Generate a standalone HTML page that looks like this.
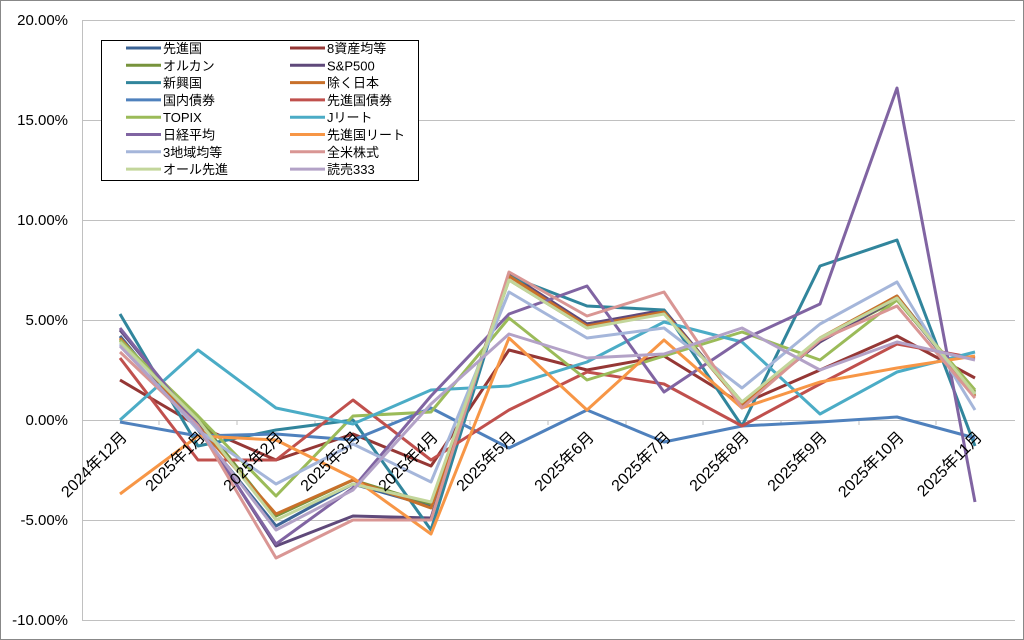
<!DOCTYPE html>
<html><head><meta charset="utf-8"><style>
body{margin:0;background:#fff}
svg{display:block;font-family:"Liberation Sans","Noto Sans CJK JP",sans-serif}
</style></head><body>
<svg id="s" width="1024" height="640" xmlns="http://www.w3.org/2000/svg">
<rect x="0.5" y="0.5" width="1023" height="639" fill="#fff" stroke="#888"/>
<g stroke="#c0c0c0" stroke-width="1">
<line x1="82" y1="20.5" x2="1015" y2="20.5"/>
<line x1="82" y1="120.5" x2="1015" y2="120.5"/>
<line x1="82" y1="220.5" x2="1015" y2="220.5"/>
<line x1="82" y1="320.5" x2="1015" y2="320.5"/>
<line x1="82" y1="420.5" x2="1015" y2="420.5"/>
<line x1="82" y1="520.5" x2="1015" y2="520.5"/>
<line x1="82" y1="620.5" x2="1015" y2="620.5"/>
<line x1="82.5" y1="20" x2="82.5" y2="620"/>
</g>
<g font-size="15" text-anchor="end" fill="#000">
<text x="68" y="25">20.00%</text>
<text x="68" y="125">15.00%</text>
<text x="68" y="225">10.00%</text>
<text x="68" y="325">5.00%</text>
<text x="68" y="425">0.00%</text>
<text x="68" y="525">-5.00%</text>
<text x="68" y="625">-10.00%</text>
</g>
<g id="ticks" stroke="#c0c0c0"></g>
<g id="lines" fill="none" stroke-width="3" stroke-linejoin="round"></g>
<g id="xl" font-size="16" text-anchor="end"></g>
<rect x="101.5" y="40.5" width="317" height="140" fill="#fff" stroke="#000"/>
<g id="leg" font-size="13"></g>
</svg>
<script>
var xs=[120,198,276,353,431,509,587,664,742,820,897,975];
var S=[
["先進国","#3c6496",[4.2,-0.5,-5.3,-3.2,-4.3,7.2,4.8,5.4,0.8,4.0,6.2,1.3]],
["8資産均等","#953735",[2.0,-0.3,-2.0,-0.7,-2.3,3.5,2.5,3.2,0.8,2.5,4.2,2.1]],
["オルカン","#77933c",[4.0,0.1,-4.8,-3.0,-4.2,7.0,4.6,5.4,0.9,4.0,6.0,1.4]],
["S&P500","#5f497a",[4.5,-0.2,-6.3,-4.8,-4.9,7.3,4.8,5.5,0.8,3.9,6.1,1.2]],
["新興国","#31859c",[5.3,-1.3,-0.5,0.0,-5.5,7.2,5.7,5.5,-0.3,7.7,9.0,-1.3]],
["除く日本","#c8702a",[4.1,-0.3,-4.7,-3.0,-4.4,7.2,4.7,5.4,0.8,4.1,6.2,1.2]],
["国内債券","#4f81bd",[-0.1,-0.8,-0.7,-1.0,0.6,-1.4,0.5,-1.1,-0.3,-0.1,0.15,-0.9]],
["先進国債券","#c0504d",[3.1,-2.0,-2.0,1.0,-2.0,0.5,2.4,1.8,-0.3,1.8,3.8,3.1]],
["TOPIX","#9bbb59",[4.0,0.2,-3.8,0.2,0.4,5.1,2.0,3.2,4.4,3.0,6.0,1.5]],
["Jリート","#4bacc6",[0.0,3.5,0.6,-0.2,1.5,1.7,2.9,4.9,3.9,0.3,2.4,3.4]],
["日経平均","#8064a2",[4.6,-0.3,-6.2,-3.4,1.2,5.3,6.7,1.4,4.0,5.8,16.6,-4.1]],
["先進国リート","#f79646",[-3.7,-0.8,-1.0,-2.9,-5.7,4.1,0.5,4.0,0.6,1.9,2.6,3.2]],
["3地域均等","#a5b6da",[3.8,-0.5,-3.2,-1.2,-3.1,6.4,4.1,4.6,1.6,4.8,6.9,0.5]],
["全米株式","#d99694",[3.4,-0.3,-6.9,-5.0,-5.0,7.4,5.2,6.4,0.6,4.0,5.7,1.1]],
["オール先進","#c3d69b",[3.9,0.0,-5.0,-3.2,-4.1,7.0,4.6,5.3,0.9,4.1,6.1,1.3]],
["読売333","#b3a2c7",[3.7,-0.4,-5.5,-3.5,0.8,4.3,3.1,3.3,4.6,2.5,3.9,3.0]]];
var NS="http://www.w3.org/2000/svg";
function el(t,a,p,txt){var e=document.createElementNS(NS,t);for(var k in a)e.setAttribute(k,a[k]);if(txt)e.textContent=txt;p.appendChild(e);return e;}
var L=document.getElementById("lines"),X=document.getElementById("xl"),G=document.getElementById("leg"),T=document.getElementById("ticks");
S.forEach(function(s,i){
 var pts=s[2].map(function(v,j){return xs[j]+","+(420-20*v).toFixed(1)}).join(" ");
 el("polyline",{points:pts,stroke:s[1]},L);
 var col=i%2,row=Math.floor(i/2);
 var lx=col?290:126,ly=48+row*17.3;
 el("line",{x1:lx,y1:ly,x2:lx+35,y2:ly,stroke:s[1],"stroke-width":3},G);
 el("text",{x:lx+37,y:ly+5},G,s[0]);
});
var lab=["2024年12月","2025年1月","2025年2月","2025年3月","2025年4月","2025年5月","2025年6月","2025年7月","2025年8月","2025年9月","2025年10月","2025年11月"];
xs.forEach(function(x,j){
 el("text",{x:x+8,y:438,transform:"rotate(-45 "+(x+8)+" 438)"},X,lab[j]);
 var tx=x+39;if(j<11)el("line",{x1:tx,y1:420,x2:tx,y2:425},T);
});
</script>
</body></html>
